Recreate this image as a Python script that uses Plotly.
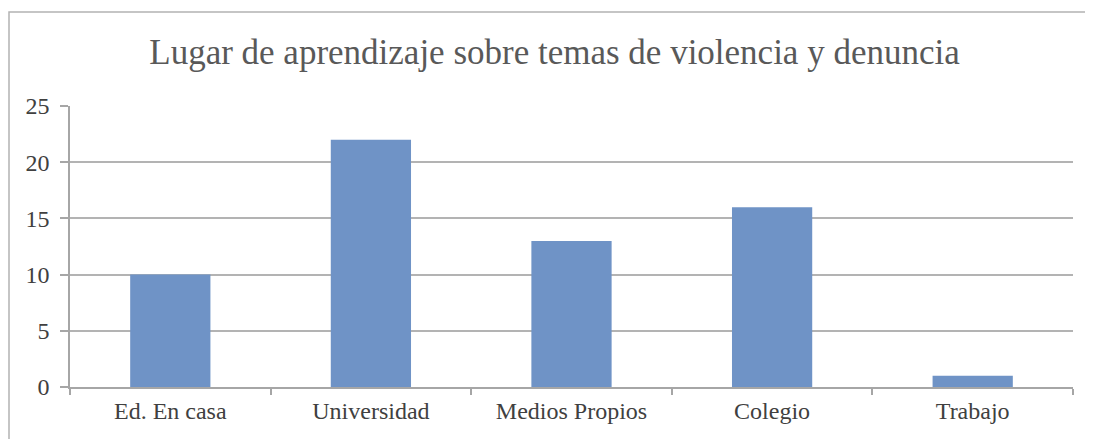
import plotly.graph_objects as go

categories = ["Ed. En casa", "Universidad", "Medios Propios", "Colegio", "Trabajo"]
values = [10, 22, 13, 16, 1]
y_ticks = [0, 5, 10, 15, 20, 25]
title_text = "Lugar de aprendizaje sobre temas de violencia y denuncia"

W, H = 1093, 439
ml, mr, mt, mb = 62, 28, 98, 60
pw, ph = W - ml - mr, H - mt - mb
SERIF = "Liberation Serif"

fig = go.Figure(go.Bar(x=categories, y=values, marker=dict(color="#6F93C6", line=dict(width=0)), width=0.4))

fig.update_layout(
    width=W, height=H,
    margin=dict(l=ml, r=mr, t=mt, b=mb, pad=0),
    paper_bgcolor="white", plot_bgcolor="white",
    font=dict(family=SERIF, color="#404040", size=24),
    title=dict(text=title_text, x=0.5, xref="container", xanchor="center", y=1 - 44 / H, yanchor="middle",
               font=dict(family=SERIF, size=35, color="#595959")),
    showlegend=False,
    bargap=0.6,
)
fig.update_yaxes(range=[0, 25], tickvals=y_ticks, showgrid=True, gridcolor="#B3B3B3", gridwidth=1.5,
                 showline=True, linecolor="#A6A6A6", linewidth=1.5, ticks="outside", ticklen=8,
                 tickcolor="#A6A6A6", tickwidth=1.5, zeroline=False, fixedrange=True,
                 tickfont=dict(family=SERIF, size=24, color="#404040"), ticklabelstandoff=6)
fig.update_xaxes(showline=True, linecolor="#A6A6A6", linewidth=1.5, ticks="outside", ticklen=6,
                 tickcolor="#A6A6A6", tickwidth=1.5, tickson="boundaries", showgrid=False,
                 tickfont=dict(family=SERIF, size=24, color="#404040"), fixedrange=True,
                 ticklabelstandoff=1)

# Outer chart border
x0 = (1 - ml) / pw
x1 = (1110 - ml) / pw
y1 = (H - mb - 4) / ph
y0 = (H - mb - 460) / ph
fig.add_shape(type="rect", xref="paper", yref="paper", x0=x0, x1=x1, y0=y0, y1=y1,
              line=dict(color="#B3B3B3", width=1.5), fillcolor="rgba(0,0,0,0)", layer="below")

fig.write_html("out.html")
